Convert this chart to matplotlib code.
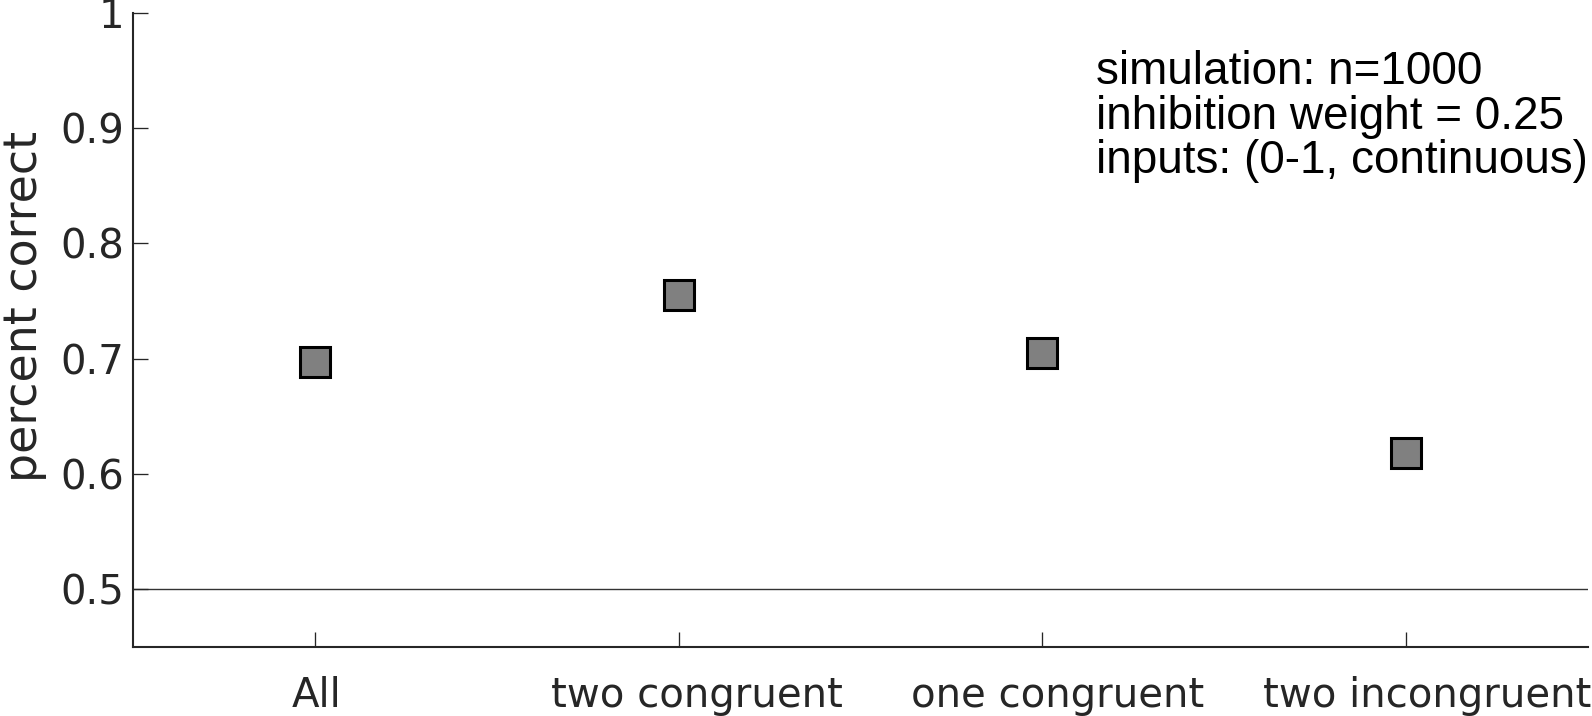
import matplotlib
matplotlib.use("Agg")
import matplotlib.pyplot as plt
from matplotlib.transforms import ScaledTranslation

categories = ["All", "two congruent", "one congruent", "two incongruent"]
percent_correct = [0.697, 0.755, 0.705, 0.618]
yticks = [0.5, 0.6, 0.7, 0.8, 0.9, 1.0]
ytick_labels = ["0.5", "0.6", "0.7", "0.8", "0.9", "1"]
chance_level = 0.5
annotation = "simulation: n=1000\ninhibition weight = 0.25\ninputs: (0-1, continuous)"

W, H, DPI = 1592, 716, 100
fig = plt.figure(figsize=(W / DPI, H / DPI), dpi=DPI)
ax_left, ax_right, ax_top, ax_bot = 133.3, 1588, 12.7, 646.7
ax = fig.add_axes([ax_left / W, 1 - ax_bot / H, (ax_right - ax_left) / W, (ax_bot - ax_top) / H])

txt_col = "#262626"
xs = list(range(1, len(categories) + 1))

ax.axhline(chance_level, color="#333333", lw=1.0, zorder=1)
ax.plot(xs, percent_correct, linestyle="none", marker="s", markersize=21.5,
        markerfacecolor="#808080", markeredgecolor="black", markeredgewidth=2.2, zorder=3)

ax.set_xlim(0.5, len(categories) + 0.5)
ax.set_ylim(0.45, 1.0)
ax.set_yticks(yticks, ytick_labels)
ax.set_xticks(xs, categories)

for side in ("top", "right"):
    ax.spines[side].set_visible(False)
for side in ("left", "bottom"):
    ax.spines[side].set_linewidth(1.5)
    ax.spines[side].set_color(txt_col)

ax.tick_params(axis="both", direction="in", length=11, width=0.95, color=txt_col,
               labelcolor=txt_col)
ax.tick_params(axis="y", labelsize=29, pad=6.5)
ax.tick_params(axis="x", labelsize=29, pad=21)
for lab in ax.get_yticklabels() + ax.get_xticklabels():
    lab.set_fontfamily("DejaVu Sans")

# small rightward shifts of the category labels, as in the reference
shifts_pt = [1, 13, 11, 15]
for lab, dx in zip(ax.get_xticklabels(), shifts_pt):
    lab.set_transform(lab.get_transform() + ScaledTranslation(dx / 72, 0, fig.dpi_scale_trans))

ax.set_ylabel("percent correct", fontsize=33, color=txt_col, family="DejaVu Sans")
ax.yaxis.set_label_coords(-0.0595, 0.537)

fig.text(1096 / W, 1 - 50 / H, annotation, ha="left", va="top", fontsize=33,
         family="Liberation Sans", color="black", linespacing=1.02)

fig.savefig("out.png", dpi=DPI)
